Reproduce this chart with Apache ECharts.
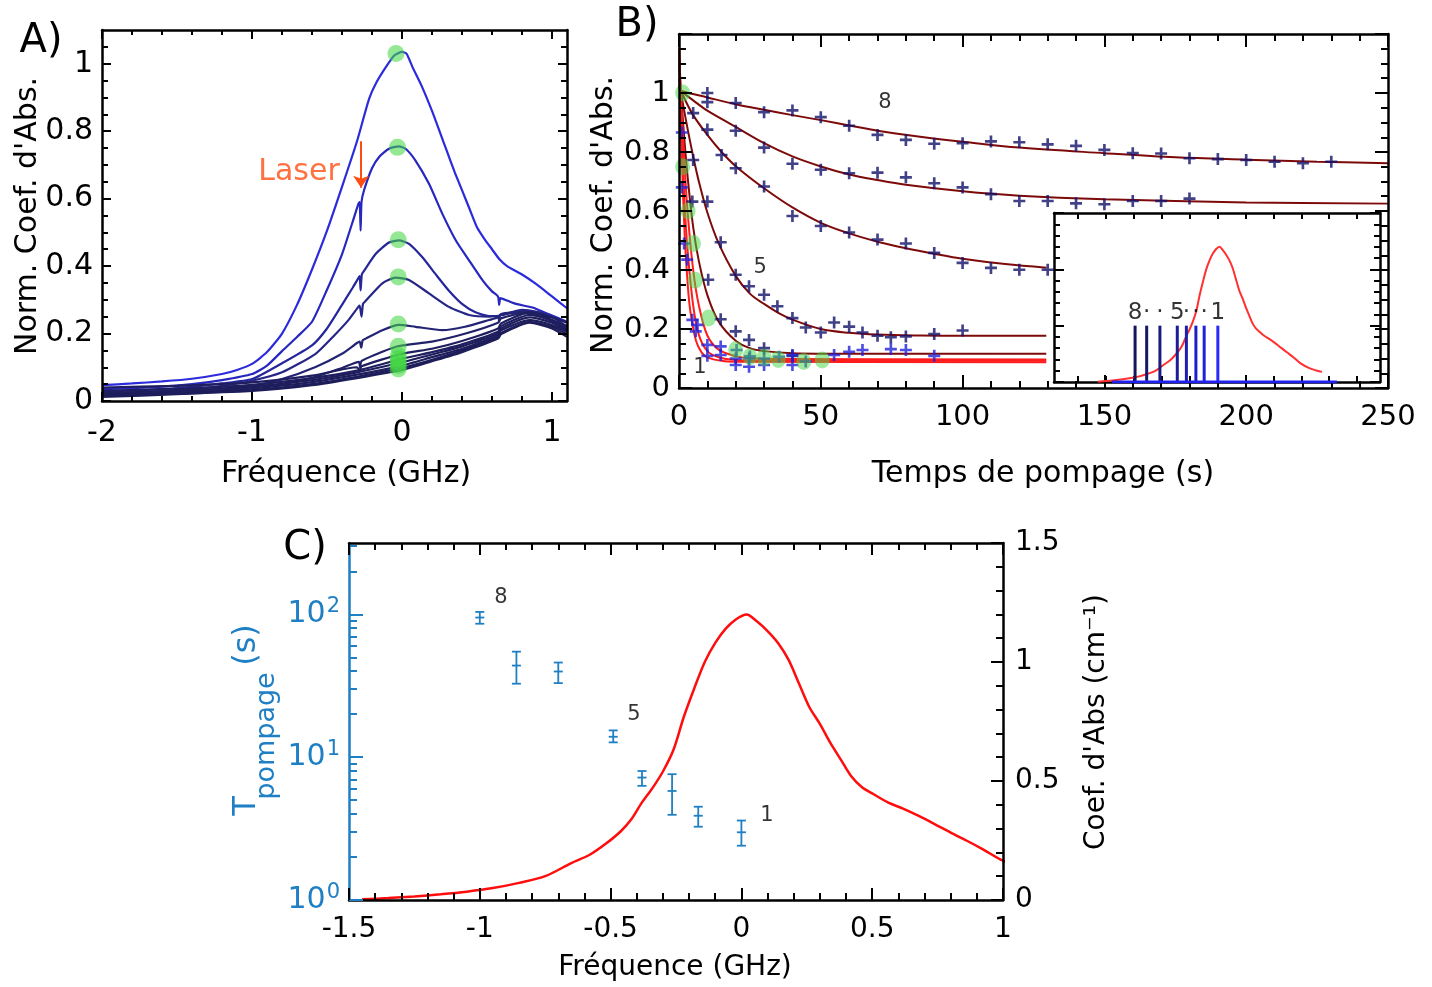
<!DOCTYPE html>
<html><head><meta charset="utf-8">
<script src="https://cdn.jsdelivr.net/npm/echarts@6/dist/echarts.min.js"></script>
<style>html,body{margin:0;padding:0;background:#fff}#c{width:1432px;height:987px}</style>
</head><body><div id="c"></div>
<script>
// ================= DATA =================
// Panel A : normalized absorption spectra vs frequency (GHz)
const specA1 = [[-2.0,0.047],[-1.8,0.052],[-1.6,0.058],[-1.4,0.066],[-1.2,0.08],[-1.1,0.092],[-1.0,0.11],[-0.9,0.145],[-0.8,0.2],[-0.7,0.285],[-0.6,0.39],[-0.5,0.505],[-0.4,0.635],[-0.3,0.77],[-0.22,0.895],[-0.17,0.945],[-0.1,0.995],[-0.05,1.025],[0.0,1.035],[0.03,1.03],[0.07,0.99],[0.13,0.935],[0.2,0.86],[0.25,0.8],[0.3,0.74],[0.35,0.68],[0.4,0.625],[0.45,0.57],[0.5,0.515],[0.55,0.48],[0.6,0.45],[0.65,0.42],[0.7,0.4],[0.8,0.375],[0.9,0.345],[1.0,0.31],[1.1,0.275]];
const specA2 = [[-2.0,0.035],[-1.7,0.04],[-1.4,0.05],[-1.2,0.062],[-1.0,0.08],[-0.9,0.105],[-0.8,0.148],[-0.7,0.19],[-0.6,0.235],[-0.5,0.33],[-0.4,0.435],[-0.33,0.53],[-0.29,0.585],[-0.282,0.59],[-0.276,0.505],[-0.27,0.59],[-0.253,0.625],[-0.2,0.69],[-0.15,0.725],[-0.087,0.748],[-0.02,0.755],[0.024,0.748],[0.09,0.713],[0.18,0.644],[0.27,0.554],[0.36,0.475],[0.45,0.415],[0.54,0.356],[0.6,0.325],[0.64,0.31],[0.648,0.285],[0.656,0.305],[0.7,0.298],[0.76,0.288],[0.87,0.277],[0.98,0.257],[1.1,0.235]];
const specA3 = [[-2.0,0.028],[-1.7,0.033],[-1.4,0.042],[-1.2,0.052],[-1.0,0.065],[-0.8,0.112],[-0.6,0.165],[-0.5,0.215],[-0.4,0.285],[-0.33,0.335],[-0.29,0.365],[-0.282,0.37],[-0.276,0.328],[-0.268,0.375],[-0.253,0.386],[-0.176,0.436],[-0.087,0.47],[-0.02,0.476],[0.047,0.466],[0.136,0.426],[0.224,0.376],[0.313,0.327],[0.4,0.288],[0.49,0.263],[0.58,0.252],[0.64,0.252],[0.648,0.235],[0.656,0.255],[0.76,0.262],[0.87,0.257],[0.98,0.24],[1.1,0.205]];
const specA4 = [[-2.0,0.022],[-1.7,0.027],[-1.4,0.035],[-1.2,0.045],[-1.0,0.06],[-0.8,0.085],[-0.576,0.14],[-0.45,0.195],[-0.353,0.242],[-0.29,0.28],[-0.282,0.283],[-0.27,0.25],[-0.26,0.288],[-0.242,0.297],[-0.131,0.349],[-0.042,0.366],[0.047,0.359],[0.18,0.319],[0.313,0.279],[0.447,0.255],[0.58,0.25],[0.67,0.255],[0.8,0.27],[0.89,0.265],[1.0,0.25],[1.1,0.22]];
const specA5 = [[-2.0,0.02],[-1.6,0.025],[-1.3,0.032],[-1.0,0.045],[-0.8,0.065],[-0.576,0.101],[-0.4,0.14],[-0.3,0.172],[-0.282,0.176],[-0.272,0.158],[-0.262,0.18],[-0.242,0.185],[-0.131,0.21],[-0.02,0.226],[0.09,0.22],[0.27,0.21],[0.42,0.22],[0.58,0.24],[0.64,0.248],[0.66,0.258],[0.8,0.265],[0.913,0.262],[1.0,0.24],[1.1,0.215]];
const specA6 = [[-2.0,0.015],[-1.6,0.02],[-1.3,0.027],[-1.0,0.037],[-0.8,0.05],[-0.576,0.072],[-0.4,0.098],[-0.287,0.116],[-0.28,0.1],[-0.27,0.118],[-0.131,0.146],[-0.02,0.163],[0.2,0.176],[0.424,0.2],[0.64,0.232],[0.66,0.245],[0.824,0.262],[0.95,0.25],[1.1,0.21]];
const specA7 = [[-2,0.04],[-1.5,0.045],[-1.0,0.055],[-0.6,0.075],[-0.3,0.1],[-0.28,0.09],[-0.27,0.103],[0,0.14],[0.2,0.155],[0.4,0.178],[0.64,0.215],[0.66,0.23],[0.85,0.262],[1.0,0.248],[1.1,0.232]];
const specA8 = [[-2,0.03],[-1.5,0.036],[-1.0,0.048],[-0.6,0.068],[-0.3,0.09],[0,0.125],[0.2,0.145],[0.4,0.168],[0.64,0.205],[0.66,0.222],[0.85,0.255],[1.0,0.24],[1.1,0.222]];
const specA9 = [[-2,0.02],[-1.5,0.03],[-1.0,0.043],[-0.6,0.062],[-0.3,0.085],[0,0.115],[0.2,0.138],[0.4,0.162],[0.64,0.2],[0.66,0.215],[0.85,0.248],[1.0,0.232],[1.1,0.212]];
const specA10 = [[-2,0.025],[-1.5,0.028],[-1.0,0.038],[-0.6,0.056],[-0.3,0.078],[0,0.105],[0.2,0.13],[0.4,0.155],[0.64,0.195],[0.66,0.21],[0.85,0.24],[1.0,0.225],[1.1,0.205]];
const specA11 = [[-2,0.012],[-1.5,0.02],[-1.0,0.032],[-0.6,0.05],[-0.3,0.072],[0,0.098],[0.2,0.122],[0.4,0.15],[0.64,0.19],[0.66,0.202],[0.85,0.235],[1.0,0.22],[1.1,0.198]];
const specA12 = [[-2,0.015],[-1.5,0.022],[-1.0,0.03],[-0.6,0.047],[-0.3,0.068],[0,0.092],[0.2,0.118],[0.4,0.145],[0.64,0.185],[0.66,0.198],[0.85,0.232],[1.0,0.215],[1.1,0.19]];
const greenA = [[-0.04,1.03],[-0.03,0.752],[-0.025,0.478],[-0.025,0.368],[-0.025,0.228],[-0.025,0.162],[-0.025,0.135],[-0.025,0.125],[-0.025,0.115],[-0.025,0.105],[-0.025,0.095]];
const laserText = [[-0.687,0.677]];
const laserArrow = [[-0.273,0.77],[-0.273,0.632]];

// Panel B : fits (lines), measured points (crosses), green markers
const fitB8 = [[0,1.01],[1,1.006],[10,0.985],[20,0.962],[30,0.943],[40,0.925],[50,0.908],[60,0.89],[70,0.872],[85,0.852],[100,0.835],[120,0.815],[150,0.796],[175,0.782],[200,0.774],[225,0.767],[250,0.762]];
const fitB7 = [[0,1.02],[1,1.005],[5,0.975],[10,0.94],[20,0.885],[30,0.83],[40,0.785],[50,0.751],[60,0.724],[70,0.705],[80,0.689],[100,0.667],[120,0.652],[150,0.64],[200,0.629],[250,0.625]];
const fitB6 = [[0,1.03],[1,1.0],[5,0.925],[10,0.858],[15,0.8],[20,0.752],[30,0.677],[40,0.612],[50,0.56],[60,0.524],[70,0.496],[80,0.474],[90,0.455],[100,0.438],[115,0.42],[129.5,0.408]];
const fitB5 = [[0,1.05],[1,0.985],[3,0.88],[5,0.785],[7,0.7],[10,0.595],[14,0.49],[20,0.38],[25,0.32],[30,0.285],[35,0.255],[40,0.232],[50,0.2],[60,0.187],[70,0.181],[85,0.178],[100,0.177],[129.5,0.177]];
const fitB4 = [[0,1.1],[1,0.96],[2,0.83],[3,0.72],[5,0.545],[7,0.43],[10,0.315],[14,0.225],[20,0.16],[25,0.135],[30,0.125],[40,0.118],[60,0.116],[129.5,0.116]];
const fitB3 = [[0,1.15],[1,0.93],[2,0.75],[3,0.6],[5,0.4],[7,0.28],[10,0.178],[14,0.13],[20,0.108],[25,0.101],[35,0.098],[129.5,0.097]];
const fitB2 = [[0,1.15],[1,0.85],[2,0.62],[3,0.47],[5,0.28],[7,0.18],[10,0.125],[14,0.104],[20,0.095],[30,0.093],[129.5,0.092]];
const fitB1 = [[0,1.15],[1,0.78],[2,0.52],[3,0.36],[4,0.26],[6,0.16],[8,0.12],[10,0.104],[15,0.092],[20,0.089],[129.5,0.087]];
const crossesDark = [[10,1.0],[20,0.966],[30,0.935],[40,0.941],[50,0.918],[60,0.889],[70,0.858],[80,0.841],[90,0.828],[100,0.83],[110,0.836],[120,0.833],[130,0.826],[140,0.821],[150,0.807],[160,0.796],[170,0.795],[180,0.779],[190,0.776],[200,0.773],[210,0.767],[220,0.762],[230,0.767],
  [5,0.932],[10,0.969],[20,0.872],[30,0.815],[40,0.76],[50,0.74],[60,0.728],[70,0.73],[80,0.714],[90,0.694],[100,0.68],[110,0.657],[120,0.634],[130,0.634],[140,0.626],[150,0.623],[160,0.634],[170,0.634],[180,0.642],
  [10,0.876],[15,0.79],[20,0.745],[30,0.683],[40,0.583],[50,0.549],[60,0.527],[70,0.503],[80,0.49],[90,0.458],[100,0.424],[110,0.407],[120,0.401],[130,0.401],
  [5,0.773],[10,0.632],[14.7,0.494],[20,0.384],[24.7,0.345],[30,0.316],[34.7,0.277],[40,0.237],[44.7,0.205],[50,0.188],[54.7,0.222],[60,0.208],[64.7,0.188],[70,0.177],[74.7,0.172],[80,0.175],[90,0.183],[100,0.195],
  [4.7,0.632],[10.3,0.367],[14.7,0.233],[20,0.192],[24.7,0.163],[30,0.135],[40,0.109]];
const crossesBlue = [[1,0.866],[1,0.68],[1.8,0.49],[2.9,0.435],[4.7,0.231],[5.9,0.192],[6.5,0.214],[10,0.146],[10,0.109],[14.7,0.141],[14.7,0.112],[20,0.1],[20,0.078],[24.7,0.1],[24.7,0.072],[30,0.078],[30,0.1],[35.3,0.106],[40,0.112],[40,0.078],[20.3,0.129],[25,0.107],[44.7,0.09],[54.7,0.112],[60,0.123],[64.7,0.129],[74.7,0.132],[80,0.129],[90,0.109]];
const greenB = [[1.3,1.0],[1.3,0.75],[3.2,0.6],[5.1,0.49],[5.7,0.365],[10.4,0.237],[20,0.13],[25,0.106],[30,0.103],[35,0.097],[44,0.09],[50.5,0.095]];
const labelsB = [[72.6,0.968,'8'],[28.6,0.407,'5'],[7.4,0.071,'1']];

// Panel C : absorption spectrum (cm-1) and pumping times (s)
const absFreq = [-1.45,-1.35,-1.25,-1.15,-1.05,-0.95,-0.85,-0.75,-0.65,-0.58,-0.52,-0.46,-0.42,-0.38,-0.34,-0.3,-0.26,-0.22,-0.18,-0.14,-0.1,-0.06,-0.02,0.02,0.06,0.1,0.14,0.18,0.22,0.26,0.3,0.34,0.38,0.42,0.46,0.5,0.56,0.62,0.68,0.74,0.8,0.86,0.92,1.0,1.1,1.18,1.26];
const absCoef = [0.003,0.008,0.015,0.024,0.035,0.05,0.072,0.1,0.155,0.19,0.235,0.29,0.34,0.41,0.47,0.54,0.63,0.77,0.89,1.0,1.08,1.14,1.18,1.2,1.17,1.13,1.08,1.01,0.91,0.81,0.74,0.66,0.59,0.52,0.475,0.448,0.41,0.383,0.352,0.318,0.283,0.25,0.215,0.165,0.125,0.105,0.09];
const pumpFreq = [-1.0,-0.86,-0.70,-0.49,-0.38,-0.265,-0.165,0.0];
const pumpTau  = [95,43.8,39.8,13.9,7.2,5.8,3.89,2.98];
const pumpLow  = [86,32.7,33,12.7,6.3,3.95,3.26,2.4];
const pumpHigh = [104,54.8,46,15.4,8.0,7.6,4.5,3.6];
const labelsC = [[-0.919,131.5,'8'],[-0.411,20,'5'],[0.098,3.93,'1']];

// Inset : sticks at the pumping frequencies
const stickHeight = 0.5;
const stickLabels = ['8','·','·','5','·','·','·','1'];
const insetBase = [[-1.28,0],[1.44,0]];

// Tick values
function steps(a,b,s){const o=[];for(let k=0;a+k*s<=b+1e-9;k++)o.push(+(a+k*s).toFixed(6));return o;}
function minorOnly(a,b,s,maj){return steps(a,b,s).filter(v=>!maj.some(m=>Math.abs(m-v)<1e-6));}
const axMajor = [-2,-1,0,1];            const axMinor = minorOnly(-2,1.0,0.2,axMajor);
const ayMajor = [0,0.2,0.4,0.6,0.8,1];  const ayMinor = minorOnly(0,1.06,0.05,ayMajor);
const bxMajor = [0,50,100,150,200,250]; const bxMinor = minorOnly(0,250,10,bxMajor);
const byMajor = [0,0.2,0.4,0.6,0.8,1,1.2]; const byLabels = [0,0.2,0.4,0.6,0.8,1]; const byMinor = minorOnly(0,1.2,0.05,byMajor);
const ixTicks = [-1.69,-1.355,-1.02,-0.68,-0.34,0,0.335,0.67,1.01,1.345,1.68];
const iyMajor = [0,0.5,1,1.5];          const iyMinor = minorOnly(0,1.5,0.1,iyMajor);
const cxMajor = [-1.5,-1,-0.5,0,0.5,1]; const cxMinor = minorOnly(-1.5,1,0.1,cxMajor);
const cyMajor = [0,0.5,1,1.5];          const cyMinor = minorOnly(0,1.5,0.1,cyMajor);
const logMajor = [1,10,100];
const logMinor = [2,3,4,5,6,7,8,9,20,30,40,50,60,70,80,90,200,300];

// ================= STYLE =================
const FONT = 'DejaVu Sans';
const BLUE_C = '#1f7fc4';
const A_COLORS = ['#2b2bdc','#2727bf','#26269c','#262687','#242474','#22226a','#1f1f60','#1f1f60','#1e1e5c','#1e1e5c','#1d1d5a','#1d1d5a'];
const STICK_COLORS = ['#15155a','#17176a','#1a1a80','#1c1c98','#1d1db0','#1e1ec8','#2020dd','#2a2aff'];
const PLUS = 'path://M3.9,0H6.1V3.9H10V6.1H6.1V10H3.9V6.1H0V3.9H3.9Z';

function mkAxis(o){
  const color = o.color || '#000';
  const a = {
    type: o.type || 'value', gridIndex: o.grid, position: o.pos, min: o.min, max: o.max,
    axisLine: {show: o.line !== false, onZero: false, lineStyle: {color, width: o.lw || 2.5}},
    axisTick: {show: true, inside: true, length: o.len, customValues: o.ticks, lineStyle: {color, width: 2}},
    minorTick: {show: false}, splitLine: {show: false}, splitArea: {show: false},
    axisLabel: o.labels ? {show: true, customValues: o.labels, color, fontFamily: FONT, fontSize: o.fs, margin: o.margin, formatter: o.fmt, rich: o.rich} : {show: false},
    z: 6
  };
  if (o.type === 'log') a.logBase = 10;
  return a;
}

const xAxis = [
  // A (0-3)
  mkAxis({grid:0,pos:'bottom',min:-2,max:1.1,ticks:axMajor,len:9,labels:axMajor,fs:30,margin:17}),
  mkAxis({grid:0,pos:'bottom',min:-2,max:1.1,ticks:axMinor,len:5,line:false}),
  mkAxis({grid:0,pos:'top',min:-2,max:1.1,ticks:axMajor,len:9}),
  mkAxis({grid:0,pos:'top',min:-2,max:1.1,ticks:axMinor,len:5,line:false}),
  // B (4-7)
  mkAxis({grid:1,pos:'bottom',min:0,max:250,ticks:bxMajor,len:13,labels:bxMajor,fs:29,margin:15}),
  mkAxis({grid:1,pos:'bottom',min:0,max:250,ticks:bxMinor,len:7,line:false}),
  mkAxis({grid:1,pos:'top',min:0,max:250,ticks:bxMajor,len:13}),
  mkAxis({grid:1,pos:'top',min:0,max:250,ticks:bxMinor,len:7,line:false}),
  // inset (8-9)
  mkAxis({grid:2,pos:'bottom',min:-1.98,max:1.96,ticks:ixTicks,len:6}),
  mkAxis({grid:2,pos:'top',min:-1.98,max:1.96,ticks:ixTicks,len:6}),
  // C (10-13)
  mkAxis({grid:3,pos:'bottom',min:-1.5,max:1,ticks:cxMajor,len:12,labels:cxMajor,fs:28,margin:16}),
  mkAxis({grid:3,pos:'bottom',min:-1.5,max:1,ticks:cxMinor,len:7,line:false}),
  mkAxis({grid:3,pos:'top',min:-1.5,max:1,ticks:cxMajor,len:12}),
  mkAxis({grid:3,pos:'top',min:-1.5,max:1,ticks:cxMinor,len:7,line:false})
];
const yAxis = [
  // A (0-3)
  mkAxis({grid:0,pos:'left',min:0,max:1.1,ticks:ayMajor,len:9,labels:ayMajor,fs:30,margin:9}),
  mkAxis({grid:0,pos:'left',min:0,max:1.1,ticks:ayMinor,len:6,line:false}),
  mkAxis({grid:0,pos:'right',min:0,max:1.1,ticks:ayMajor,len:9}),
  mkAxis({grid:0,pos:'right',min:0,max:1.1,ticks:ayMinor,len:6,line:false}),
  // B (4-7)
  mkAxis({grid:1,pos:'left',min:0,max:1.2,ticks:byMajor,len:13,labels:byLabels,fs:29,margin:9}),
  mkAxis({grid:1,pos:'left',min:0,max:1.2,ticks:byMinor,len:7,line:false}),
  mkAxis({grid:1,pos:'right',min:0,max:1.2,ticks:byMajor,len:13}),
  mkAxis({grid:1,pos:'right',min:0,max:1.2,ticks:byMinor,len:7,line:false}),
  // inset (8-11)
  mkAxis({grid:2,pos:'left',min:0,max:1.5,ticks:iyMajor,len:10}),
  mkAxis({grid:2,pos:'left',min:0,max:1.5,ticks:iyMinor,len:6,line:false}),
  mkAxis({grid:2,pos:'right',min:0,max:1.5,ticks:iyMajor,len:10}),
  mkAxis({grid:2,pos:'right',min:0,max:1.5,ticks:iyMinor,len:6,line:false}),
  // C (12-15)
  mkAxis({grid:3,pos:'left',type:'log',min:1,max:316,ticks:logMajor,len:14,labels:logMajor,fs:30,margin:9,color:BLUE_C,
          fmt:v=>'10{s|'+Math.round(Math.log10(v))+'}',
          rich:{s:{fontSize:21,color:BLUE_C,fontFamily:FONT,padding:[0,0,15,1]}}}),
  mkAxis({grid:3,pos:'left',type:'log',min:1,max:316,ticks:logMinor,len:8,line:false,color:BLUE_C}),
  mkAxis({grid:3,pos:'right',min:0,max:1.5,ticks:cyMajor,len:12,labels:cyMajor,fs:28,margin:12}),
  mkAxis({grid:3,pos:'right',min:0,max:1.5,ticks:cyMinor,len:7,line:false})
];

const series = [];
// ---- Panel A
[specA1,specA2,specA3,specA4,specA5,specA6,specA7,specA8,specA9,specA10,specA11,specA12].forEach((d,i)=>{
  series.push({type:'line',xAxisIndex:0,yAxisIndex:0,data:d,symbol:'none',smooth:0.2,
    lineStyle:{width:2.2,color:A_COLORS[i]},z:3,silent:true});
});
series.push({type:'scatter',xAxisIndex:0,yAxisIndex:0,data:greenA,symbol:'circle',symbolSize:17,
  itemStyle:{color:'rgba(70,215,70,0.72)'},z:5,silent:true});
series.push({type:'scatter',xAxisIndex:0,yAxisIndex:0,data:laserText,symbolSize:1,itemStyle:{color:'transparent'},
  label:{show:true,position:'inside',formatter:'Laser',fontFamily:FONT,fontSize:30,color:'#ff4d12'},z:6,silent:true,
  markLine:{silent:true,symbol:['none','arrow'],symbolSize:12,lineStyle:{color:'#ff4d12',width:2,type:'solid',opacity:1},label:{show:false},
    emphasis:{disabled:true},data:[[{coord:laserArrow[0]},{coord:laserArrow[1]}]]}});

// ---- Panel B
[fitB8,fitB7,fitB6,fitB5,fitB4].forEach(d=>series.push({type:'line',xAxisIndex:4,yAxisIndex:4,data:d,symbol:'none',smooth:0.35,
  lineStyle:{width:2,color:'#7d0a0a'},z:3,silent:true}));
[fitB3,fitB2,fitB1].forEach(d=>series.push({type:'line',xAxisIndex:4,yAxisIndex:4,data:d,symbol:'none',smooth:0.35,
  lineStyle:{width:2,color:'#ff1c1c'},z:3,silent:true}));
series.push({type:'scatter',xAxisIndex:4,yAxisIndex:4,data:crossesDark,symbol:PLUS,symbolSize:12,itemStyle:{color:'#12126a'},z:4,silent:true});
series.push({type:'scatter',xAxisIndex:4,yAxisIndex:4,data:crossesBlue,symbol:PLUS,symbolSize:12,itemStyle:{color:'#2020d8'},z:4,silent:true});
series.push({type:'scatter',xAxisIndex:4,yAxisIndex:4,data:greenB,symbol:'circle',symbolSize:[15,17],itemStyle:{color:'rgba(70,215,70,0.65)'},z:5,silent:true});
series.push({type:'scatter',xAxisIndex:4,yAxisIndex:4,data:labelsB,symbolSize:1,itemStyle:{color:'transparent'},
  label:{show:true,position:'inside',formatter:p=>p.value[2],fontFamily:FONT,fontSize:21,color:'#000'},z:6,silent:true});

// ---- Inset
series.push({type:'line',xAxisIndex:8,yAxisIndex:8,data:absFreq.map((f,i)=>[f,absCoef[i]]),symbol:'none',smooth:0.3,
  lineStyle:{width:2,color:'#ff3030'},z:7,silent:true});
series.push({type:'line',xAxisIndex:8,yAxisIndex:8,data:insetBase,symbol:'none',lineStyle:{width:3,color:'#2020f0'},z:8,silent:true});
series.push({type:'custom',xAxisIndex:8,yAxisIndex:8,data:pumpFreq.map((f,i)=>[f,stickHeight,i]),z:8,silent:true,
  renderItem:(params,api)=>{
    const f=api.value(0), b=api.coord([f,0]), t=api.coord([f,api.value(1)]);
    return {type:'line',shape:{x1:b[0],y1:b[1],x2:t[0],y2:t[1]},style:{stroke:STICK_COLORS[api.value(2)],lineWidth:3}};
  }});
series.push({type:'scatter',xAxisIndex:8,yAxisIndex:8,data:pumpFreq.map((f,i)=>[f,stickHeight,stickLabels[i]]),symbolSize:1,
  itemStyle:{color:'transparent'},label:{show:true,position:'top',distance:1,formatter:p=>p.value[2],fontFamily:FONT,fontSize:23,color:'#000'},z:9,silent:true});

// ---- Panel C
series.push({type:'line',xAxisIndex:10,yAxisIndex:14,data:absFreq.map((f,i)=>[f,absCoef[i]]),symbol:'none',smooth:0.3,
  lineStyle:{width:2.5,color:'#ff0d0d'},z:3,silent:true});
series.push({type:'custom',xAxisIndex:10,yAxisIndex:12,data:pumpFreq.map((f,i)=>[f,pumpTau[i],pumpLow[i],pumpHigh[i]]),
  encode:{x:0,y:[1,2,3]},z:4,silent:true,
  renderItem:(params,api)=>{
    const x=api.value(0), c=api.coord([x,api.value(1)]), lo=api.coord([x,api.value(2)]), hi=api.coord([x,api.value(3)]);
    const w=4.5, s={stroke:BLUE_C,lineWidth:1.8};
    return {type:'group',children:[
      {type:'line',shape:{x1:lo[0],y1:lo[1],x2:hi[0],y2:hi[1]},style:s},
      {type:'line',shape:{x1:lo[0]-w,y1:lo[1],x2:lo[0]+w,y2:lo[1]},style:s},
      {type:'line',shape:{x1:hi[0]-w,y1:hi[1],x2:hi[0]+w,y2:hi[1]},style:s},
      {type:'line',shape:{x1:c[0]-w,y1:c[1],x2:c[0]+w,y2:c[1]},style:s}
    ]};
  }});
series.push({type:'scatter',xAxisIndex:10,yAxisIndex:12,data:labelsC,symbolSize:1,itemStyle:{color:'transparent'},
  label:{show:true,position:'inside',formatter:p=>p.value[2],fontFamily:FONT,fontSize:21,color:'#000'},z:6,silent:true});

function txt(x,y,text,size,opt){
  opt=opt||{};
  return {type:'text',x,y,rotation:opt.rot||0,z:20,silent:true,
    style:{text,fontFamily:FONT,fontSize:size,fill:opt.color||'#000',align:'center',verticalAlign:'middle'}};
}
const graphic = [
  txt(41,42,'A)',40), txt(637,26,'B)',40), txt(305,549,'C)',40),
  txt(28,216,"Norm. Coef. d'Abs.",30,{rot:Math.PI/2}),
  txt(346,474,'Fréquence (GHz)',30),
  txt(604,215,"Norm. Coef. d'Abs.",30,{rot:Math.PI/2}),
  txt(1043,474,'Temps de pompage (s)',30),
  txt(675,968,'Fréquence (GHz)',28),
  txt(247,806,'T',32,{rot:Math.PI/2,color:BLUE_C}),
  txt(267,736,'pompage',27,{rot:Math.PI/2,color:BLUE_C}),
  txt(247,645,'(s)',32,{rot:Math.PI/2,color:BLUE_C}),
  txt(1097,722,"Coef. d'Abs (cm⁻¹)",28,{rot:Math.PI/2})
];

const chart = echarts.init(document.getElementById('c'), null, {renderer:'canvas'});
chart.setOption({
  animation:false,
  backgroundColor:'#fff',
  textStyle:{fontFamily:FONT},
  grid:[
    {left:102,top:30,width:465,height:371},
    {left:679,top:34,width:709,height:354},
    {left:1054,top:213,width:326,height:169,show:true,backgroundColor:'#fff',borderWidth:0},
    {left:349,top:543,width:654,height:357}
  ],
  xAxis, yAxis, series, graphic
});
</script></body></html>
